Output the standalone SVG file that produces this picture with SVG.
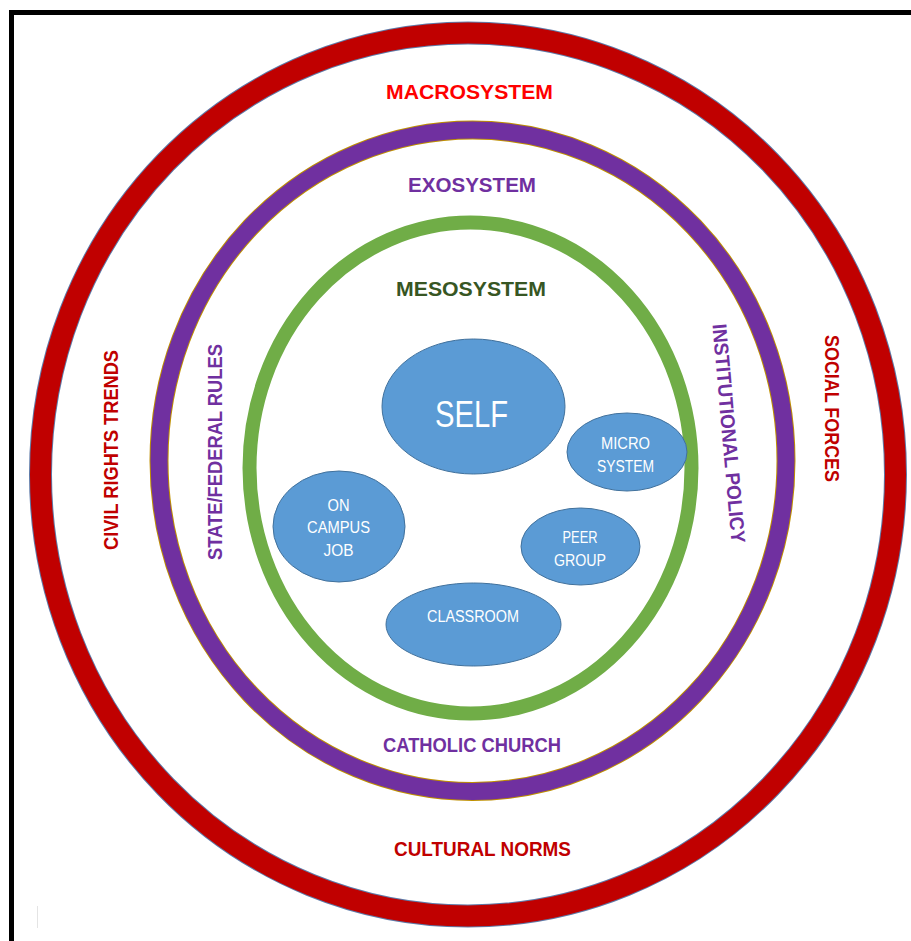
<svg xmlns="http://www.w3.org/2000/svg" width="911" height="941" viewBox="0 0 911 941">
<style>
.lbl{font-family:"Liberation Sans",Arial,sans-serif;font-weight:bold;font-size:20px;text-anchor:middle}
.red{fill:#C00000}
.bright{fill:#FF0000}
.pur{fill:#7030A0}
.grn{fill:#375623}
.node ellipse{fill:#5B9BD5;stroke:#41719C;stroke-width:1}
.node text{font-family:"Liberation Sans",Arial,sans-serif;font-size:16px;fill:#FFFFFF;text-anchor:middle}
</style>
<rect x="0" y="0" width="911" height="941" fill="#FFFFFF"/>
<g id="frame">
<rect x="9" y="10" width="902" height="5" fill="#000000"/>
<rect x="9" y="10" width="5" height="931" fill="#000000"/>
<line x1="37.5" y1="906" x2="37.5" y2="928" stroke="#e4e4e4" stroke-width="1"/>
</g>
<g id="macrosystem">
<ellipse cx="468" cy="474.5" rx="427.5" ry="441.5" fill="none" stroke="#5E7AA8" stroke-width="23"/>
<ellipse cx="468" cy="474.5" rx="427.5" ry="441.5" fill="none" stroke="#C00000" stroke-width="21"/>
<text class="lbl bright" x="469.5" y="99" textLength="167" lengthAdjust="spacingAndGlyphs">MACROSYSTEM</text>
<text class="lbl red" x="482.5" y="856" textLength="177" lengthAdjust="spacingAndGlyphs">CULTURAL NORMS</text>
<text class="lbl red" transform="translate(118,450) rotate(-90)" x="0" y="0" textLength="200" lengthAdjust="spacingAndGlyphs">CIVIL RIGHTS TRENDS</text>
<text class="lbl red" transform="translate(825,408.5) rotate(90)" x="0" y="0" textLength="147" lengthAdjust="spacingAndGlyphs">SOCIAL FORCES</text>
</g>
<g id="exosystem">
<ellipse cx="472.5" cy="460.75" rx="313.5" ry="330.75" fill="none" stroke="#BF9000" stroke-width="19"/>
<ellipse cx="472.5" cy="460.75" rx="313.5" ry="330.75" fill="none" stroke="#7030A0" stroke-width="17"/>
<text class="lbl pur" x="472" y="192" textLength="128" lengthAdjust="spacingAndGlyphs">EXOSYSTEM</text>
<text class="lbl pur" x="472" y="752" textLength="178" lengthAdjust="spacingAndGlyphs">CATHOLIC CHURCH</text>
<text class="lbl pur" transform="translate(222,452) rotate(-90)" x="0" y="0" textLength="216" lengthAdjust="spacingAndGlyphs">STATE/FEDERAL RULES</text>
<text class="lbl pur" transform="translate(722,434) rotate(85)" x="0" y="0" textLength="220" lengthAdjust="spacingAndGlyphs">INSTITUTIONAL POLICY</text>
</g>
<g id="mesosystem">
<ellipse cx="470.5" cy="468" rx="221" ry="245.5" fill="none" stroke="#70AD47" stroke-width="14"/>
<text class="lbl grn" x="471" y="296" textLength="150" lengthAdjust="spacingAndGlyphs">MESOSYSTEM</text>
</g>
<g id="self" class="node">
<ellipse cx="473.5" cy="406.5" rx="91.5" ry="67.5"/>
<text x="471.5" y="427" style="font-size:37px" textLength="73" lengthAdjust="spacingAndGlyphs">SELF</text>
</g>
<g id="microsystem" class="node">
<ellipse cx="627" cy="452" rx="60" ry="39"/>
<text x="625.5" y="449" textLength="49" lengthAdjust="spacingAndGlyphs">MICRO</text>
<text x="625.5" y="472" textLength="57" lengthAdjust="spacingAndGlyphs">SYSTEM</text>
</g>
<g id="peer-group" class="node">
<ellipse cx="580.5" cy="546.5" rx="59.5" ry="38.5"/>
<text x="580" y="543" textLength="35" lengthAdjust="spacingAndGlyphs">PEER</text>
<text x="580" y="566" textLength="52" lengthAdjust="spacingAndGlyphs">GROUP</text>
</g>
<g id="on-campus-job" class="node">
<ellipse cx="339" cy="526.5" rx="66" ry="55.5"/>
<text x="338.5" y="511" textLength="22" lengthAdjust="spacingAndGlyphs">ON</text>
<text x="338.5" y="533" textLength="63" lengthAdjust="spacingAndGlyphs">CAMPUS</text>
<text x="338.5" y="556" textLength="30" lengthAdjust="spacingAndGlyphs">JOB</text>
</g>
<g id="classroom" class="node">
<ellipse cx="473.5" cy="624.5" rx="87.5" ry="41.5"/>
<text x="473" y="622" textLength="92" lengthAdjust="spacingAndGlyphs">CLASSROOM</text>
</g>
<g id="connectors"/>
</svg>
